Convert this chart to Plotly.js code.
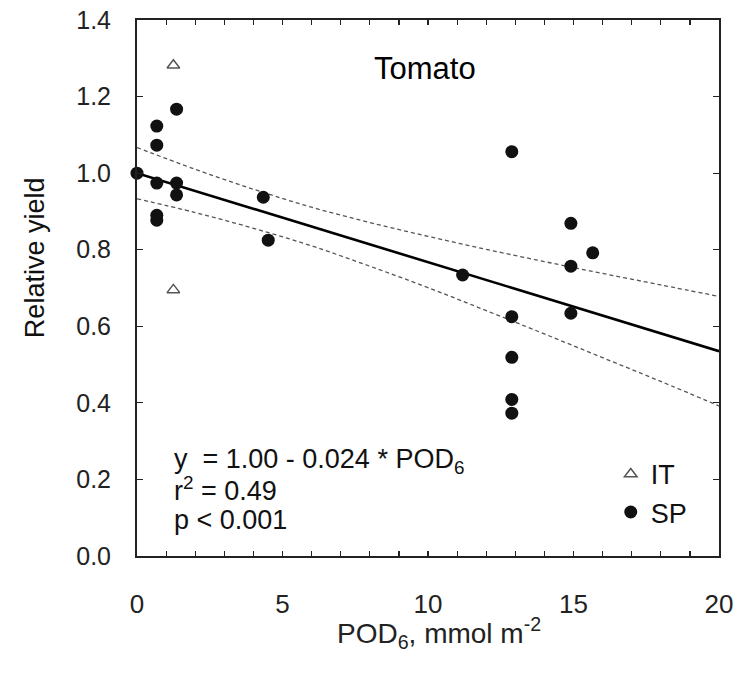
<!DOCTYPE html>
<html>
<head>
<meta charset="utf-8">
<script src="https://cdn.plot.ly/plotly-3.0.1.min.js"></script>
<style>html,body{margin:0;padding:0;background:#fff;}#chart{width:754px;height:675px;}</style>
</head>
<body>
<div id="chart"></div>
<script>
// SP observations
var spX = [0, 0.68, 0.68, 0.68, 0.68, 0.68, 1.36, 1.36, 1.36, 4.34, 4.51, 11.19, 12.88, 12.88, 12.88, 12.88, 12.88, 14.91, 14.91, 14.91, 15.66];
var spY = [1.00, 1.123, 1.073, 0.974, 0.890, 0.877, 1.167, 0.974, 0.943, 0.937, 0.825, 0.734, 1.056, 0.625, 0.519, 0.409, 0.373, 0.869, 0.757, 0.634, 0.792];
// IT observations
var itX = [1.25, 1.25];
var itY = [1.282, 0.695];
// regression line and confidence band
var fitX = [0, 20];
var fitY = [1.00, 0.535];
var ciX = [0, 2, 4, 6, 8, 10, 12, 14, 16, 18, 20];
var ciUpper = [1.067, 1.010, 0.958, 0.911, 0.871, 0.835, 0.801, 0.769, 0.738, 0.708, 0.678];
var ciLower = [0.933, 0.897, 0.856, 0.810, 0.757, 0.701, 0.641, 0.580, 0.518, 0.456, 0.392];
// ticks
var xTickVals = [];
var xTickText = [];
for (var i = 0; i <= 20; i++) { xTickVals.push(i); xTickText.push(i % 5 === 0 ? String(i) : ''); }
var yTickVals = [0, 0.2, 0.4, 0.6, 0.8, 1.0, 1.2, 1.4];

var font = 'Liberation Sans, Arial, sans-serif';
var traces = [
  {x: ciX, y: ciUpper, mode: 'lines', line: {color: '#555', width: 1.3, dash: '4px,3px', shape: 'spline'}, showlegend: false, hoverinfo: 'skip'},
  {x: ciX, y: ciLower, mode: 'lines', line: {color: '#555', width: 1.3, dash: '4px,3px', shape: 'spline'}, showlegend: false, hoverinfo: 'skip'},
  {x: fitX, y: fitY, mode: 'lines', line: {color: '#000', width: 2.6}, showlegend: false},
  {x: itX, y: itY, mode: 'markers', name: 'IT', marker: {symbol: 'triangle-up-open', size: 11, color: '#555', line: {width: 1.5, color: '#555'}}, cliponaxis: false},
  {x: spX, y: spY, mode: 'markers', name: 'SP', marker: {symbol: 'circle', size: 13, color: '#111'}, cliponaxis: false}
];

var layout = {
  width: 754, height: 675,
  margin: {l: 137, r: 35, t: 20, b: 119},
  paper_bgcolor: '#fff', plot_bgcolor: '#fff',
  font: {family: font, color: '#222'},
  showlegend: true,
  legend: {x: 0.814, y: 0.198, xanchor: 'left', yanchor: 'top', bgcolor: 'rgba(0,0,0,0)', font: {size: 27, color: '#111', family: font}, tracegroupgap: 0, itemsizing: 'trace'},
  xaxis: {
    range: [0, 20], tickvals: xTickVals, ticktext: xTickText,
    ticks: 'inside', ticklen: 5, tickwidth: 1.2, tickcolor: '#222',
    showline: true, linecolor: '#222', linewidth: 2, mirror: 'allticks',
    showgrid: false, zeroline: false,
    tickfont: {size: 26, color: '#222'}, ticklabelstandoff: 24
  },
  yaxis: {
    range: [0, 1.4], tickvals: yTickVals, tickformat: '.1f',
    ticks: 'inside', ticklen: 6, tickwidth: 1.2, tickcolor: '#222',
    showline: true, linecolor: '#222', linewidth: 2, mirror: 'allticks',
    showgrid: false, zeroline: false,
    tickfont: {size: 25, color: '#222'}, ticklabelstandoff: 19
  },
  annotations: [
    {text: 'Tomato', x: 9.9, y: 1.274, xref: 'x', yref: 'y', xanchor: 'center', yanchor: 'middle', showarrow: false, font: {size: 31, color: '#000', family: font}},
    {text: 'y  = 1.00 - 0.024 * POD<sub>6</sub>', x: 1.2, y: 0.247, xref: 'x', yref: 'y', xanchor: 'left', yanchor: 'middle', showarrow: false, font: {size: 27, color: '#111', family: font}},
    {text: 'r<sup>2</sup> = 0.49', x: 1.2, y: 0.176, xref: 'x', yref: 'y', xanchor: 'left', yanchor: 'middle', showarrow: false, font: {size: 27, color: '#111', family: font}},
    {text: 'p < 0.001', x: 1.2, y: 0.094, xref: 'x', yref: 'y', xanchor: 'left', yanchor: 'middle', showarrow: false, font: {size: 27, color: '#111', family: font}},
    {text: 'POD<sub>6</sub>, mmol m<sup>-2</sup>', x: 0.519, y: -0.1437, xref: 'paper', yref: 'paper', xanchor: 'center', yanchor: 'middle', showarrow: false, font: {size: 28, color: '#222', family: font}},
    {text: 'Relative yield', x: -0.175, y: 0.556, xref: 'paper', yref: 'paper', xanchor: 'center', yanchor: 'middle', textangle: -90, showarrow: false, font: {size: 27, color: '#111', family: font}}
  ]
};

Plotly.newPlot('chart', traces, layout, {displayModeBar: false, staticPlot: true});
</script>
</body>
</html>
